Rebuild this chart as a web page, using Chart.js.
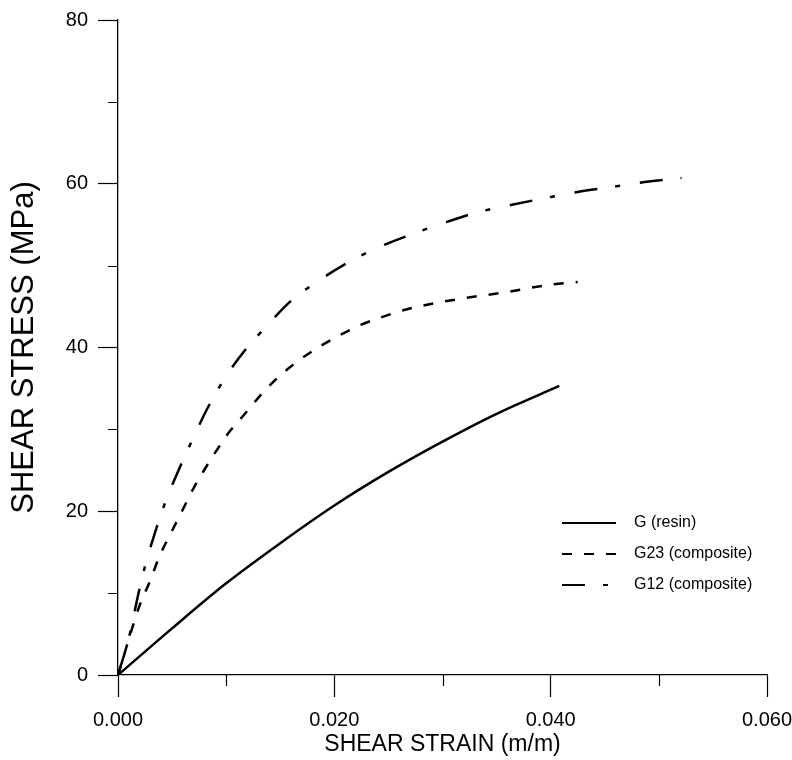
<!DOCTYPE html>
<html>
<head>
<meta charset="utf-8">
<script src="https://cdn.jsdelivr.net/npm/chart.js@4/dist/chart.umd.min.js"></script>
<style>
  html, body { margin: 0; padding: 0; background: #fff; }
  canvas { display: block; }
</style>
</head>
<body>
<canvas id="shearChart" width="792" height="760"></canvas>
<script>
// curves (strain m/m, stress MPa)
const gStrain = [0, 0.005, 0.010, 0.015, 0.020, 0.025, 0.030, 0.035, 0.0408];
const gStress = [0, 5.7, 11.2, 16.1, 20.7, 24.8, 28.5, 31.9, 35.3];

const g23Strain = [0, 0.0020, 0.0030, 0.0038, 0.0048, 0.0058, 0.0069, 0.0080, 0.0091, 0.0103, 0.0116, 0.0134, 0.0150, 0.0167, 0.0185, 0.0205, 0.0225, 0.0246, 0.0268, 0.0314, 0.0356, 0.0401, 0.0425];
const g23Stress = [0, 8.5, 11.6, 14.4, 17.1, 19.7, 22.6, 25.1, 27.4, 29.7, 31.7, 34.5, 36.6, 38.4, 40.0, 41.5, 42.8, 43.8, 44.7, 45.9, 46.7, 47.7, 48.0];

const g12Strain = [0, 0.0010, 0.0019, 0.0025, 0.0034, 0.0044, 0.0056, 0.0069, 0.0082, 0.0098, 0.0117, 0.0138, 0.0160, 0.0186, 0.0213, 0.0242, 0.0269, 0.0301, 0.0332, 0.0363, 0.0393, 0.0425, 0.0457, 0.0487, 0.0521];
const g12Stress = [0, 4.5, 10.0, 13.3, 17.3, 21.2, 25.0, 28.8, 32.4, 36.1, 39.6, 42.7, 45.7, 48.2, 50.4, 52.3, 53.7, 55.2, 56.5, 57.4, 58.2, 59.0, 59.6, 60.2, 60.7];

const seriesNames = ['G (resin)', 'G23 (composite)', 'G12 (composite)'];
const xMinorTicks = [0.010, 0.030, 0.050];
const yMinorTicks = [10, 30, 50, 70];

const FONT = "'Liberation Sans', Arial, sans-serif";

function toPoints(xs, ys) {
  return xs.map((x, i) => ({ x: x, y: ys[i] }));
}

// short ticks between the labelled ones
const minorTicks = {
  id: 'minorTicks',
  afterDraw(chart) {
    const ctx = chart.ctx;
    const xs = chart.scales.x, ys = chart.scales.y;
    const area = chart.chartArea;
    ctx.save();
    ctx.strokeStyle = '#000';
    ctx.lineWidth = 1.2;
    ctx.beginPath();
    yMinorTicks.forEach(v => {
      const py = Math.round(ys.getPixelForValue(v)) + 0.5;
      ctx.moveTo(area.left - 10, py);
      ctx.lineTo(area.left, py);
    });
    xMinorTicks.forEach(v => {
      const px = Math.round(xs.getPixelForValue(v)) + 0.5;
      ctx.moveTo(px, area.bottom);
      ctx.lineTo(px, area.bottom + 11);
    });
    ctx.stroke();
    ctx.restore();
  }
};

// legend inside the plot, lower right
const innerLegend = {
  id: 'innerLegend',
  afterDraw(chart) {
    const ctx = chart.ctx;
    const area = chart.chartArea;
    const x0 = area.left + 444;
    const lineLen = 54;
    let y = area.top + 503;
    ctx.save();
    chart.data.datasets.forEach(ds => {
      ctx.strokeStyle = '#000';
      ctx.lineWidth = 2.2;
      ctx.setLineDash(ds.borderDash || []);
      ctx.beginPath();
      ctx.moveTo(x0, y);
      ctx.lineTo(x0 + lineLen, y);
      ctx.stroke();
      ctx.setLineDash([]);
      ctx.fillStyle = '#000';
      ctx.font = '16px ' + FONT;
      ctx.textBaseline = 'middle';
      ctx.fillText(ds.label, x0 + 72, y);
      y += 31;
    });
    ctx.restore();
  }
};

const ctx = document.getElementById('shearChart').getContext('2d');

new Chart(ctx, {
  type: 'line',
  data: {
    datasets: [
      {
        label: seriesNames[0],
        data: toPoints(gStrain, gStress),
        borderColor: '#000',
        borderWidth: 2.5,
        borderDash: []
      },
      {
        label: seriesNames[1],
        data: toPoints(g23Strain, g23Stress),
        borderColor: '#000',
        borderWidth: 2.5,
        borderDash: [10, 12]
      },
      {
        label: seriesNames[2],
        data: toPoints(g12Strain, g12Stress),
        borderColor: '#000',
        borderWidth: 2.5,
        borderDash: [23, 18, 5, 20]
      }
    ]
  },
  options: {
    responsive: false,
    animation: false,
    events: [],
    layout: { padding: { top: 20, right: 25, bottom: 0, left: 0 } },
    elements: {
      point: { radius: 0 },
      line: { cubicInterpolationMode: 'monotone', fill: false }
    },
    plugins: {
      legend: { display: false },
      tooltip: { enabled: false }
    },
    scales: {
      x: {
        type: 'linear',
        min: 0,
        max: 0.06,
        afterFit(scale) {
          scale.height = 85;
          scale.paddingLeft = 0;
          scale.paddingRight = 0;
        },
        border: { display: true, color: '#000', width: 1.3 },
        grid: { drawOnChartArea: false, drawTicks: true, tickLength: 22, tickColor: '#000', tickWidth: 1.2 },
        ticks: {
          stepSize: 0.02,
          autoSkip: false,
          maxRotation: 0,
          padding: 11,
          color: '#000',
          font: { family: FONT, size: 20 },
          callback: v => v.toFixed(3)
        },
        title: {
          display: true,
          text: 'SHEAR STRAIN (m/m)',
          color: '#000',
          font: { family: FONT, size: 23 },
          padding: { top: 0, bottom: 2 }
        }
      },
      y: {
        min: 0,
        max: 80,
        afterFit(scale) {
          scale.width = 118;
          scale.paddingTop = 0;
          scale.paddingBottom = 0;
        },
        border: { display: true, color: '#000', width: 1.3 },
        grid: { drawOnChartArea: false, drawTicks: true, tickLength: 20, tickColor: '#000', tickWidth: 1.2 },
        ticks: {
          stepSize: 20,
          padding: 10,
          color: '#000',
          font: { family: FONT, size: 20 }
        },
        title: {
          display: true,
          text: 'SHEAR STRESS (MPa)',
          color: '#000',
          font: { family: FONT, size: 31 },
          padding: { top: 6, bottom: 0 }
        }
      }
    }
  },
  plugins: [minorTicks, innerLegend]
});
</script>
</body>
</html>
